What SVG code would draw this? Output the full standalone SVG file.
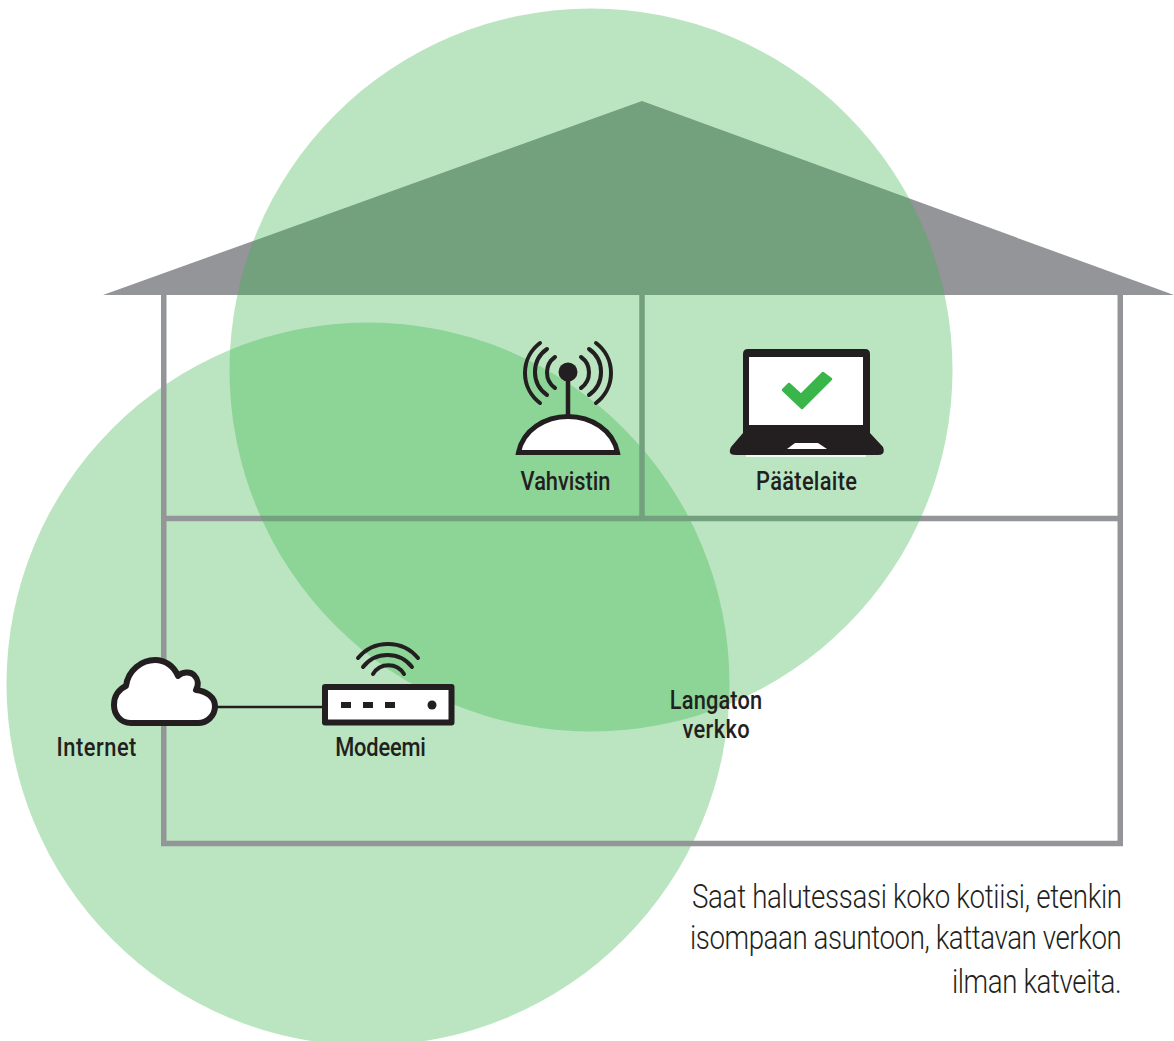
<svg xmlns="http://www.w3.org/2000/svg" width="1174" height="1041" viewBox="0 0 1174 1041">
<style>
.wall{fill:none;stroke:#939598;stroke-width:5.500}
.cov{fill:#39b54a;fill-opacity:.35}
.ink{fill:#231f20}
.line{fill:none;stroke:#231f20;stroke-linecap:round}
.lab{font-family:"Roboto","Liberation Sans",sans-serif;font-size:26px;font-weight:500;fill:#231f20;text-anchor:middle}
.note{font-family:"Roboto","Liberation Sans",sans-serif;font-size:33px;font-weight:300;fill:#231f20}
</style>
<rect width="1174" height="1041" fill="#fff"/>
<g id="coverage-modeemi">
<circle class="cov" cx="368" cy="684" r="361.500"/>
</g>
<g id="house">
<polygon points="103,295 642,101 1174,295" fill="#939598"/>
<path class="wall" d="M163.750 295V843.500H1120.250V295M163.750 518.500H1120.250M642 295V518.500"/>
</g>
<g id="coverage-vahvistin">
<circle class="cov" cx="591" cy="370" r="361.500"/>
</g>
<g id="connectors">
<path d="M216 707H324" fill="none" stroke="#231f20" stroke-width="2.500"/>
</g>
<g id="internet">
<path d="M131 723C120 723 114 714 114 705C114 696 119 689 126 686C128 670 142 660 155 660C165 660 174 666 178 676C182 672 190 671 194 675C198 679 199 685 196 690C206 691 215 697 215 706C215 716 207 723 198 723Z" fill="#fff" stroke="#231f20" stroke-width="6" stroke-linejoin="round"/>
<text class="lab" transform="translate(96.500 756) scale(.84 1)" textLength="95">Internet</text>
</g>
<g id="modeemi">
<rect x="325" y="687" width="126.500" height="35.500" fill="#fff" stroke="#231f20" stroke-width="6" stroke-linejoin="round"/>
<rect class="ink" x="341" y="702" width="10" height="6"/>
<rect class="ink" x="363" y="702" width="10" height="6"/>
<rect class="ink" x="385" y="702" width="10" height="6"/>
<circle class="ink" cx="432" cy="705" r="4.500"/>
<g class="line" stroke-width="4">
<path d="M358 658A39 39 0 0 1 418 658"/>
<path d="M363 667A31 31 0 0 1 412 667"/>
<path d="M373 674A18 18 0 0 1 404 674"/>
</g>
<text class="lab" transform="translate(380.500 756) scale(.84 1)" textLength="108">Modeemi</text>
</g>
<g id="vahvistin">
<path d="M518.500 452.500C523 430 545 416.500 568 416.500C591 416.500 613 430 617.500 452.500Z" fill="#fff" stroke="#231f20" stroke-width="5"/>
<path d="M568 372V416" stroke="#231f20" stroke-width="4.500"/>
<circle class="ink" cx="568" cy="372" r="9.500"/>
<g class="line" stroke-width="4">
<path d="M555 357A19 19 0 0 0 555 388"/>
<path d="M547 349A28 28 0 0 0 547 395"/>
<path d="M540 343A37.500 37.500 0 0 0 540 403"/>
<path d="M581 357A19 19 0 0 1 581 388"/>
<path d="M589 349A28 28 0 0 1 589 395"/>
<path d="M596 343A37.500 37.500 0 0 1 596 403"/>
</g>
<text class="lab" transform="translate(565.500 490) scale(.84 1)" textLength="107">Vahvistin</text>
</g>
<g id="paatelaite">
<path d="M746 456H866" stroke="#fff" stroke-width="1.500"/>
<path class="ink" d="M743 433V354Q743 349 748 349H865Q870 349 870 354V433L883 447Q886 455 878 455H736Q727 455 731 447Z"/>
<rect x="749" y="357" width="114" height="68" fill="#fff"/>
<polygon points="795,443 818,443 827,449 787,449" fill="#fff"/>
<polygon points="783,390 789,384 801,395 823,373 831,379 802,408" fill="#39b54a" stroke="#39b54a" stroke-width="2.500" stroke-linejoin="round"/>
<text class="lab" transform="translate(806.500 490) scale(.84 1)" textLength="120">Päätelaite</text>
</g>
<g id="langaton-verkko">
<text class="lab" transform="translate(716 709) scale(.84 1)" textLength="110">Langaton</text>
<text class="lab" transform="translate(716 738) scale(.84 1)" textLength="80">verkko</text>
</g>
<g id="note">
<text class="note" transform="translate(692 908) scale(.84 1)" textLength="512">Saat halutessasi koko kotiisi, etenkin</text>
<text class="note" transform="translate(690 949) scale(.84 1)" textLength="514">isompaan asuntoon, kattavan verkon</text>
<text class="note" transform="translate(952 993) scale(.84 1)" textLength="202">ilman katveita.</text>
</g>
</svg>
